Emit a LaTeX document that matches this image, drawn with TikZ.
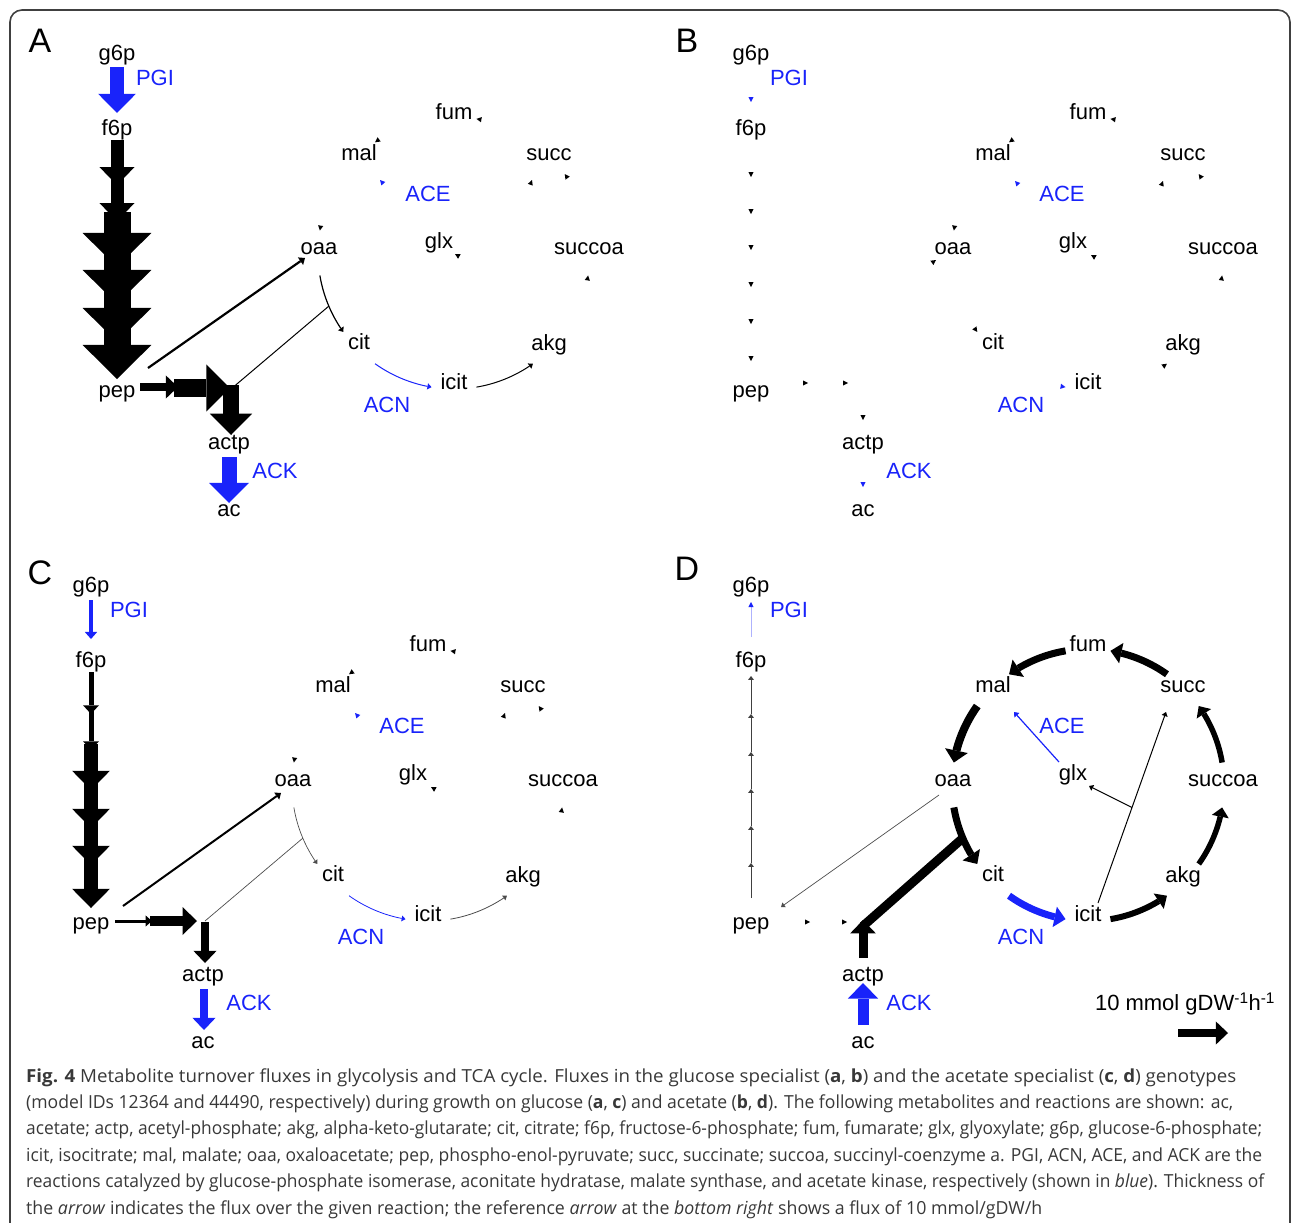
\documentclass[tikz,border=0pt]{standalone}
\usepackage{fontspec}
\setmainfont{Liberation Sans}
\newfontfamily\capfam{Open Sans}
\usepackage{graphicx}
\usetikzlibrary{arrows.meta,bending,calc}
\definecolor{fblue}{RGB}{25,35,250}
\tikzset{
  met/.style={font=\fontsize{22}{22}\selectfont, inner sep=0pt, text height=15.8pt, text depth=4.6pt, anchor=center, yshift=-3pt},
  enz/.style={met, text=fblue},
  plab/.style={font=\fontsize{34}{34}\selectfont, inner sep=0pt, anchor=base},
  flux/.style={line width=#1pt, -{Triangle[line width=0pt, length=3pt 1.15, width=4pt 2.4]}},
  bflux/.style={flux=#1, fblue},
  capl/.style={anchor=base west, inner sep=0pt, text=black!78},
}
\newcommand\ttip[3][black]{\fill[#1,shift={#2},rotate=#3] (0pt,0pt) -- (-5pt,2.6pt) -- (-5pt,-2.6pt) -- cycle;}
\newcommand\tcatip[3][black]{\ttip[#1]{($(#2ctr)+(#3:136pt)$)}{#3+90}}
\newcommand\tcarc[4][]{\draw[#1] ($(#2ctr)+(#3:136pt)$) arc[start angle=#3, end angle=#4, radius=136pt];}
\newcommand\capfont{\capfam\fontsize{18}{22}\selectfont}
\newcommand\metnodes[1]{%
  \node[met] (#1g6p) at (117,52) {g6p};
  \node[met] (#1f6p) at (117,127) {f6p};
  \node[met] (#1pep) at (117,389) {pep};
  \node[met] (#1actp) at (229,441) {actp};
  \node[met] (#1ac) at (229,508) {ac};
  \node[met] (#1oaa) at (319,246) {oaa};
  \node[met] (#1cit) at (359,341) {cit};
  \node[met] (#1icit) at (454,381) {icit};
  \node[met] (#1akg) at (549,342) {akg};
  \node[met] (#1succoa) at (589,246) {succoa};
  \node[met] (#1succ) at (549,152) {succ};
  \node[met] (#1fum) at (454,111) {fum};
  \node[met] (#1mal) at (359,152) {mal};
  \node[met] (#1glx) at (439,240) {glx};
  \node[enz] (#1PGI) at (155,77) {PGI};
  \node[enz] (#1ACK) at (275,470) {ACK};
  \node[enz] (#1ACE) at (428,193) {ACE};
  \node[enz] (#1ACN) at (387,404) {ACN};
  \coordinate (#1ctr) at (454,253);
}
\begin{document}
\begin{tikzpicture}[x=1pt,y=-1pt]
\useasboundingbox (0,0) rectangle (1293,1223);
\draw[line width=1.6pt, black!75, rounded corners=12pt] (10,1223) -- (10,10) -- (1290,10) -- (1290,1223);

\node[plab] (lA) at (40,53) {A};
\node[plab] (lB) at (687,53) {B};
\node[plab] (lC) at (40,584) {C};
\node[plab] (lD) at (687,580) {D};

% ---------------- Panel A
\begin{scope}
\metnodes{a-}
\draw[bflux=14] (117,67) -- (117,113);
\foreach \s/\e/\w in {140/185/13,178/221/13,212/267/27,250/304/27,288/342/27,326/379/27}
  \draw[flux=\w] (117,\s) -- (117,\e);
\draw[flux=8] (140,387) -- (178,387);
\draw[flux=18] (174,388) -- (230,388);
\draw[flux=16] (231,385) -- (231,435);
\draw[bflux=15] (229,457) -- (229,503);
\draw[flux=2.2] (148,368) -- (305,258);
\draw[line width=1pt] (231,389) -- ($(a-ctr)+(203:136pt)$);
\tcarc[flux=1.2]{a-}{189.5}{215.5}
\tcarc[bflux=1]{a-}{234.5}{260.5}
\tcarc[flux=1]{a-}{279.5}{305.5}
\foreach \a in {35.5,80.5,125.5,170.5,350.5} \tcatip{a-}{\a};
\ttip[fblue]{(380,180)}{132}
\ttip{(532,180)}{70}
\ttip{(455,254)}{150}
\end{scope}

% ---------------- Panel B
\begin{scope}[shift={(634,0)}]
\metnodes{b-}
\ttip[fblue]{(117,102)}{-90}
\foreach \y in {177,214,250,287,324,361} \ttip{(117,\y)}{-90};
\ttip{(174,383)}{0}
\ttip{(214,383)}{0}
\ttip{(229,420)}{-90}
\ttip[fblue]{(229,487)}{-90}
\ttip{(302,260)}{35}
\foreach \a in {35.5,80.5,125.5,170.5,215.5,305.5,350.5} \tcatip{b-}{\a};
\tcatip[fblue]{b-}{260.5}
\ttip[fblue]{(381,181)}{132}
\ttip{(529,181)}{70}
\ttip{(457,255)}{150}
\end{scope}

% ---------------- Panel C
\begin{scope}[shift={(-26,532)}]
\metnodes{c-}
\draw[bflux=3.5] (117,68) -- (117,107);
\foreach \s/\e/\w in {140/182/5,176/218/5,212/258/14,250/296/14,288/333/14,326/376/14}
  \draw[flux=\w] (117,\s) -- (117,\e);
\draw[flux=3] (141,389) -- (178,389);
\draw[flux=10] (176,389) -- (223,389);
\draw[flux=8] (231,390) -- (231,431);
\draw[bflux=8] (230,457) -- (230,498);
\draw[flux=2] (149,374) -- (307,261);
\draw[line width=0.7pt, black!70] (231,389) -- ($(c-ctr)+(203:136pt)$);
\tcarc[flux=0.7, black!70]{c-}{189.5}{215.5}
\tcarc[bflux=0.8]{c-}{234.5}{260.5}
\tcarc[flux=0.8, black!70]{c-}{279.5}{305.5}
\foreach \a in {35.5,80.5,125.5,170.5,350.5} \tcatip{c-}{\a};
\ttip[fblue]{(381,181)}{132}
\ttip{(531,181)}{70}
\ttip{(457,255)}{150}
\end{scope}

% ---------------- Panel D
\begin{scope}[shift={(634,532)}]
\metnodes{d-}
\draw[line width=0.6pt, fblue!35] (117,105) -- (117,72);
\ttip[fblue]{(117,70)}{90}
\foreach \s/\e in {366/331,331/294,294/257,257/220,220/182,182/144}
  \draw[flux=0.8, black!75] (117,\s) -- (117,\e);
\ttip{(176,390)}{0}
\ttip{(213,390)}{0}
\draw[bflux=11] (229,493) -- (229,451);
\draw[flux=9] (229,426) -- (229,388);
\draw[line width=9pt] (229,394) -- ($(d-ctr)+(203:136pt)$);
\draw[flux=0.7, black!70] (305,263) -- (147,375);
\tcarc[flux=5.5]{d-}{9.5}{35.5}
\tcarc[flux=7]{d-}{54.5}{80.5}
\tcarc[flux=7]{d-}{99.5}{125.5}
\tcarc[flux=8]{d-}{144.5}{170.5}
\tcarc[flux=7]{d-}{189.5}{215.5}
\tcarc[bflux=7]{d-}{234.5}{260.5}
\tcarc[flux=6]{d-}{279.5}{305.5}
\tcarc[flux=5.5]{d-}{324.5}{350.5}
\coordinate (d-lya1) at (464,371);
\coordinate (d-lya2) at (532,180);
\draw[flux=1] (d-lya1) -- (d-lya2);
\draw[flux=1] ($(d-lya1)!0.5!(d-lya2)$) -- (455,254);
\draw[bflux=1.2] (425,230) -- (380,180);
\end{scope}

% scale
\node[met] (scale) at (1185,1002) {10 mmol gDW\textsuperscript{-1}h\textsuperscript{-1}};
\coordinate (sc1) at (1178,1033);
\coordinate (sc2) at (1228,1033);
\draw[flux=8] (sc1) -- (sc2);

% caption
\node[capl] (cap1) at (26,1082) {\resizebox{1210pt}{\height}{\capfont\textbf{Fig. 4} Metabolite turnover fluxes in glycolysis and TCA cycle. Fluxes in the glucose specialist (\textbf{a}, \textbf{b}) and the acetate specialist (\textbf{c}, \textbf{d}) genotypes}};
\node[capl] (cap2) at (26,1108.4) {\resizebox{1207pt}{\height}{\capfont (model IDs 12364 and 44490, respectively) during growth on glucose (\textbf{a}, \textbf{c}) and acetate (\textbf{b}, \textbf{d}). The following metabolites and reactions are shown: ac,}};
\node[capl] (cap3) at (26,1134.8) {\resizebox{1236pt}{\height}{\capfont acetate; actp, acetyl-phosphate; akg, alpha-keto-glutarate; cit, citrate; f6p, fructose-6-phosphate; fum, fumarate; glx, glyoxylate; g6p, glucose-6-phosphate;}};
\node[capl] (cap4) at (26,1161.2) {\resizebox{1236pt}{\height}{\capfont icit, isocitrate; mal, malate; oaa, oxaloacetate; pep, phospho-enol-pyruvate; succ, succinate; succoa, succinyl-coenzyme a. PGI, ACN, ACE, and ACK are the}};
\node[capl] (cap5) at (26,1187.6) {\resizebox{1238pt}{\height}{\capfont reactions catalyzed by glucose-phosphate isomerase, aconitate hydratase, malate synthase, and acetate kinase, respectively (shown in \textit{blue}). Thickness of}};
\node[capl] (cap6) at (26,1214) {\resizebox{1016pt}{\height}{\capfont the \textit{arrow} indicates the flux over the given reaction; the reference \textit{arrow} at the \textit{bottom right} shows a flux of 10 mmol/gDW/h}};
\end{tikzpicture}
\end{document}
